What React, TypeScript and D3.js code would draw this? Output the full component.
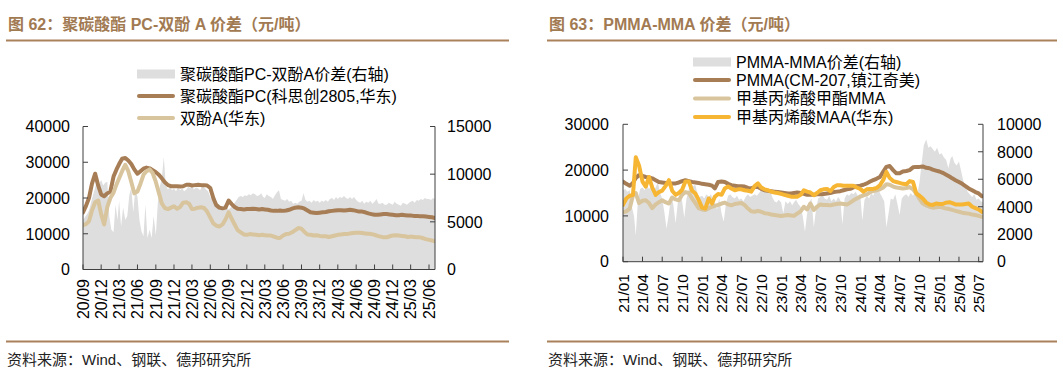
import React from 'react';
import * as d3 from 'd3';

// ================= LEFT CHART DATA (图 62) =================
const leftTickLabels = ['20/09','20/12','21/03','21/06','21/09','21/12','22/03','22/06','22/09','22/12','23/03','23/06','23/09','23/12','24/03','24/06','24/09','24/12','25/03','25/06'];
const leftYTicks = [0, 10000, 20000, 30000, 40000];
const leftY2Ticks = [0, 5000, 10000, 15000];
const leftSeriesNames = ['聚碳酸酯PC-双酚A价差(右轴)', '聚碳酸酯PC(科思创2805,华东)', '双酚A(华东)'];
// semi-monthly from 2020-09-01 (1st & 16th)
const pcPrice = [
  16000,17800, 20000,24000, 26800,23500, 21000,20500, 21300,21800, 26000,28000,
  29500,31000, 31200,30500, 29500,28000, 26800,27500, 28200,28500, 28300,27800,
  27200,26500, 25500,24400, 23600,23300, 23300,23300, 23200,23300, 23700,23700,
  23500,23600, 23700,23600, 23600,23500, 22800,20000, 18000,17300, 17100,17300,
  19300,18300, 17500,17000, 16900,16800, 16900,16900, 17000,16900, 16800,16900,
  16800,16700, 16500,16400, 16400,16500, 16400,16500, 16700,17000, 17300,17400,
  17300,17000, 16500,16000, 15900,15800, 15900,16000, 16100,16300, 16400,16500,
  16600,16600, 16500,16600, 16700,16600, 16400,16200, 16200,16000, 15700,15500,
  15300,15300, 15400,15500, 15500,15400, 15300,15200, 15200,15300, 15200,15100,
  15100,15000, 15000,14900, 14900,14800, 14700,14600, 14400,
];
const bpaPrice = [
  12400,12700, 13500,16500, 18800,19300, 15500,12600, 17500,20000, 21500,23800,
  25500,27500, 29300,27500, 24500,21300, 21800,24000, 26500,27500, 28000,27000,
  24500,21500, 18500,17200, 16900,17300, 17700,17000, 17500,18700, 18800,18300,
  16900,17000, 17300,17400, 17200,16200, 14500,12900, 12300,12000, 12600,14000,
  16000,14200, 12600,11000, 10400,9800, 9700,9900, 9800,9700, 9600,9700,
  9600,9500, 9500,9200, 8900,8800, 9500,9900, 10000,10400, 11000,11600,
  11400,10500, 9800,9700, 9500,9600, 9400,9300, 9300,9100, 9300,9500,
  9700,9800, 9900,9900, 10100,10200, 10300,10300, 10200,10100, 10000,9900,
  9700,9400, 9200,9000, 9000,9300, 9500,9600, 9500,9400, 9300,9100,
  9200,9100, 9000,9000, 8800,8500, 8300,8100, 7900,
];
// spread (right axis), three readings per month (1st, 11th, 21st) from 2020-09
const pcSpread = [
  5200,5500,5800, 6200,7000,7800, 8600,9300,9000, 9400,8800,9100, 9200,5500,4200,
  3900,6800,5200, 7200,4500,6500, 5200,5600,7800, 8600,6000,8400, 7600,5200,4000,
  3500,6800,3300, 4200,3300,5600, 3600,7000,8700, 9600,11800,8800, 8400,8700,8300,
  8500,8200,8600, 8300,8500,8200, 8400,8700,8500, 8800,8400,8600, 8500,8300,8700,
  8600,8400,8200, 7600,7300,7200, 7100,6900,6700, 6600,6800,6500, 6300,6500,6800,
  7000,7300,7600, 7700,7600,7800, 7700,7900,7800, 8000,7900,7700, 7800,8000,7600,
  7500,7900,7700, 7600,7400,7800, 8100,8300,7400, 7300,7200,7400, 7100,7200,6900,
  7000,6900,7100, 7200,8000,7300, 7100,7200,7000, 7300,7100,7200, 7000,7200,7100,
  7300,7100,7400, 7500,7300,7600, 7400,7600,7500, 7700,7500,7400, 7600,7400,7600,
  7300,7100,7000, 7200,6900,7100, 7000,7200,6900, 7100,7400,6900, 6900,7000,6800,
  6800,7000,6900, 6800,7100,6900, 6800,6700,7000, 6900,6800,7000, 7100,7200,7000,
  7300,7200,7400, 7300,7500,7400, 7400,7300,7500, 7400,
];

// ================= RIGHT CHART DATA (图 63) =================
const rightTickLabels = ['21/01','21/04','21/07','21/10','22/01','22/04','22/07','22/10','23/01','23/04','23/07','23/10','24/01','24/04','24/07','24/10','25/01','25/04','25/07'];
const rightYTicks = [0, 10000, 20000, 30000];
const rightY2Ticks = [0, 2000, 4000, 6000, 8000, 10000];
const rightSeriesNames = ['PMMA-MMA价差(右轴)', 'PMMA(CM-207,镇江奇美)', '甲基丙烯酸甲酯MMA', '甲基丙烯酸MAA(华东)'];
// semi-monthly from 2021-01-01
const pmmaPrice = [
  17500,17000, 16600,17200, 18300,18900, 18700,18500, 18400,18200, 17800,17400,
  17300,17200, 17100,17100, 17100,17300, 17600,17800, 17600,17400, 17300,17200,
  17000,16900, 16800,16600, 16000,17400, 17500,17400, 17000,16700, 16600,16500,
  16500,16400, 16100,16000, 16300,16300, 15900,15600, 15500,15400, 15300,15200,
  15100,15000, 14900,14900, 15000,15100, 15000,14800, 14600,14600, 14600,14700,
  14700,14800, 14900,15000, 15200,15300, 15400,15600, 15800,15900, 16200,16500,
  16600,16800, 17100,17500, 17800,18100, 18500,19600, 20700,20900, 20000,19300,
  19300,19700, 19800,20000, 20600,20700, 20700,20800, 20500,20400, 20100,19900,
  19700,19400, 19000,18600, 18200,17800, 17400,17000, 16500,16000, 15600,15200,
  14900,14300,
];
const mmaPrice = [
  10800,11000, 11600,14500, 15000,12800, 13300,13400, 12800,11700, 12500,13000,
  13400,13000, 12700,14000, 13600,13400, 14600,15200, 15000,13800, 12800,11700,
  11400,11300, 11700,12000, 12200,12400, 12700,12900, 12500,12300, 12600,12700,
  12800,12400, 11600,11000, 10900,11100, 10900,10600, 10500,10300, 10200,10100,
  10000,10100, 10200,10100, 10000,10500, 11000,12000, 11400,12700, 11300,12000,
  12500,12400, 12400,12300, 12500,12600, 12700,12600, 12500,12900, 13400,13800,
  14200,14500, 14700,15200, 15400,15600, 15800,16200, 16900,16800, 16400,16200,
  16100,16000, 16100,16300, 15800,14900, 13700,12700, 12300,12000, 11800,11900,
  12000,11800, 11600,11500, 11300,11100, 10900,10700, 10600,10500, 10300,10200,
  10000,9800,
];
const maaPrice = [
  12400,13800, 14400,14600, 22800,21000, 17500,16400, 18500,16200, 14600,15200,
  15500,16500, 17800,15500, 14600,15000, 15700,17500, 17500,15500, 14900,13500,
  11800,11600, 13800,12700, 14200,14800, 14600,16000, 16400,16000, 15600,15800,
  15800,15600, 15500,15300, 16500,17100, 16200,15800, 15600,15300, 15100,15000,
  14800,14600, 14400,14200, 14200,14200, 14600,15600, 15300,15100, 14500,15000,
  15600,15800, 15900,15400, 16300,16700, 16700,16600, 16600,16600, 16600,16200,
  15900,15300, 15800,15900, 15900,16100, 16700,17800, 19600,18300, 17600,17400,
  17200,17000, 16900,17600, 17400,14900, 14400,13800, 12900,12500, 12400,12700,
  12600,12600, 12900,13000, 12800,12500, 12500,12500, 12600,12700, 12000,11700,
  11400,10900,
];
// spread (right axis), three readings per month (1st, 11th, 21st) from 2021-01
const pmmaSpread = [
  5200,5300,5100, 5200,4000,3300, 1900,4500,5300, 5400,5200,5600, 5300,5500,5200,
  5400,5800,5000, 4600,3600,2400, 3500,4800,4200, 2800,4300,5000, 4400,3200,4600,
  5300,5700,5500, 5600,4900,4700, 4800,4600,4900, 4700,4900,4500, 4300,3800,4600,
  3500,2900,4200, 4800,4900,4700, 4600,4800,4500, 4600,4400,4700, 4900,4700,4800,
  4900,4800,5000, 5200,5500,5200, 5100,5300,4700, 4400,4300,4500, 4300,3500,4400,
  4200,4400,4100, 4300,4500,4200, 4000,3300,2200, 3500,4300,4600, 2500,3800,4600,
  4700,4900,4600, 4500,4800,4400, 4600,4400,4700, 4500,2700,4600, 4900,4800,5000,
  4900,5100,4800, 4900,3000,4500, 4800,4600,5000, 4800,5200,5500, 5000,4700,4400,
  2500,3500,4600, 4500,4900,4200, 3400,4600,4800, 4900,4700,5000, 4800,5100,4900,
  5800,7200,8500, 8900,8300,8400, 8200,8000,8300, 7800,7900,7600, 7400,6800,7500,
  7700,7200,7000, 7300,6600,5900, 5500,5100,4900, 4700,4900,4500, 4600,4400,4300,
];

// ================= STYLE =================
const FONT = '"Liberation Sans", Arial, "Noto Sans CJK SC", sans-serif';
const CJK = '"Liberation Sans", Arial, "Noto Sans CJK SC", sans-serif';
const TITLE_COLOR = '#A27A52';
const RULE_COLOR = '#A9825C';
const AXIS_COLOR = '#3f3f3f';
const GRAY_FILL = '#DEDEDE';
const BROWN = '#A77D55';
const TAN = '#D9C59D';
const GOLD = '#F6B533';

const halfMonth = (y: number, m: number, i: number) => new Date(y, m + Math.floor(i / 2), i % 2 ? 16 : 1);
const thirdMonth = (y: number, m: number, i: number) => new Date(y, m + Math.floor(i / 3), [1, 11, 21][i % 3]);
const parseTick = (s: string) => new Date(2000 + +s.slice(0, 2), +s.slice(3) - 1, 1);

type LineSeries = { values: number[]; color: string; name: string };
type PanelProps = {
  id: string;
  title: string;
  titleX: number;
  ruleX: [number, number];
  x0: number; x1: number; yTop: number; yBot: number;
  start: [number, number];
  end: Date;
  tickLabels: string[];
  yTicks: number[];
  y2Ticks: number[];
  yMax: number; y2Max: number;
  spread: number[]; spreadName: string;
  lines: LineSeries[];
  legendX: number; legendY: number[];
  leftLabelX: number; rightLabelX: number;
  xLabelTop: number;
  xLabelSize: number;
};

function Panel(p: PanelProps) {
  const x = d3.scaleTime().domain([new Date(p.start[0], p.start[1], 1), p.end]).range([p.x0, p.x1]);
  const y = d3.scaleLinear().domain([0, p.yMax]).range([p.yBot, p.yTop]);
  const y2 = d3.scaleLinear().domain([0, p.y2Max]).range([p.yBot, p.yTop]);
  const area = d3.area<number>()
    .x((_, i) => x(thirdMonth(p.start[0], p.start[1], i)))
    .y0(p.yBot)
    .y1((d) => y2(d));
  const line = (vals: number[]) => d3.line<number>()
    .x((_, i) => x(halfMonth(p.start[0], p.start[1], i)))
    .y((d) => y(d))
    .curve(d3.curveLinear)(vals) || '';
  const tickDates = p.tickLabels.map(parseTick);
  const clipId = 'clip-' + p.id;
  return (
    <g>
      <text x={p.titleX} y={30} fill={TITLE_COLOR} fontFamily={CJK} fontWeight="bold" fontSize={16}>{p.title}</text>
      <line x1={p.ruleX[0]} x2={p.ruleX[1]} y1={40.5} y2={40.5} stroke={RULE_COLOR} strokeWidth={2} />
      <line x1={p.ruleX[0]} x2={p.ruleX[1]} y1={341.5} y2={341.5} stroke={RULE_COLOR} strokeWidth={2} />
      <text x={p.ruleX[0] + 1} y={365} fill="#222" fontFamily={CJK} fontSize={15}>资料来源：Wind、钢联、德邦研究所</text>

      <defs>
        <clipPath id={clipId}>
          <rect x={p.x0} y={p.yTop - 10} width={p.x1 - p.x0} height={p.yBot - p.yTop + 10} />
        </clipPath>
      </defs>
      <g clipPath={`url(#${clipId})`}>
        <path d={area(p.spread) || ''} fill={GRAY_FILL} />
        {p.lines.map((s) => (
          <path key={s.name} d={line(s.values)} fill="none" stroke={s.color} strokeWidth={4} strokeLinejoin="round" strokeLinecap="round" />
        ))}
      </g>

      {/* axes */}
      <line x1={p.x0} x2={p.x0} y1={p.yTop} y2={p.yBot} stroke={AXIS_COLOR} strokeWidth={1} />
      <line x1={p.x1} x2={p.x1} y1={p.yTop} y2={p.yBot} stroke={AXIS_COLOR} strokeWidth={1} />
      <line x1={p.x0} x2={p.x1} y1={p.yBot} y2={p.yBot} stroke={AXIS_COLOR} strokeWidth={1} />
      {p.yTicks.map((t) => (
        <g key={'l' + t}>
          <line x1={p.x0} x2={p.x0 + 5} y1={y(t)} y2={y(t)} stroke={AXIS_COLOR} />
          <text x={p.leftLabelX} y={y(t)} dy="0.36em" textAnchor="end" fontFamily={FONT} fontSize={16} fill="#000">{t}</text>
        </g>
      ))}
      {p.y2Ticks.map((t) => (
        <g key={'r' + t}>
          <line x1={p.x1 - 5} x2={p.x1} y1={y2(t)} y2={y2(t)} stroke={AXIS_COLOR} />
          <text x={p.rightLabelX} y={y2(t)} dy="0.36em" textAnchor="start" fontFamily={FONT} fontSize={16} fill="#000">{t}</text>
        </g>
      ))}
      {tickDates.map((d, i) => (
        <g key={'x' + i}>
          <line x1={x(d)} x2={x(d)} y1={p.yBot} y2={p.yBot - 5} stroke={AXIS_COLOR} />
          <text transform={`translate(${x(d)},${p.xLabelTop}) rotate(-90)`} dy="0.36em" textAnchor="end" fontFamily={FONT} fontSize={p.xLabelSize} fill="#000">{p.tickLabels[i]}</text>
        </g>
      ))}

      {/* legend */}
      <rect x={p.legendX} y={p.legendY[0] - 4.5} width={38} height={9} fill={GRAY_FILL} />
      <text x={p.legendX + 43} y={p.legendY[0]} dy="0.36em" fontFamily={CJK} fontSize={16} fill="#000">{p.spreadName}</text>
      {p.lines.map((s, i) => (
        <g key={'lg' + i}>
          <line x1={p.legendX + 2} x2={p.legendX + 36} y1={p.legendY[i + 1]} y2={p.legendY[i + 1]} stroke={s.color} strokeWidth={4} strokeLinecap="round" />
          <text x={p.legendX + 43} y={p.legendY[i + 1]} dy="0.36em" fontFamily={CJK} fontSize={16} fill="#000">{s.name}</text>
        </g>
      ))}
    </g>
  );
}

export default function App() {
  return (
    <svg width={1063} height={383} style={{ position: 'absolute', left: 0, top: 0, background: '#fff' }}>
      <rect width={1063} height={383} fill="#fff" />
      <Panel
        id="left"
        title="图 62：聚碳酸酯 PC-双酚 A 价差（元/吨）"
        titleX={8}
        ruleX={[6, 509]}
        x0={83} x1={435} yTop={126.5} yBot={269.5}
        start={[2020, 8]}
        end={new Date(2025, 6, 1)}
        tickLabels={leftTickLabels}
        yTicks={leftYTicks} y2Ticks={leftY2Ticks}
        yMax={40000} y2Max={15000}
        spread={pcSpread} spreadName={leftSeriesNames[0]}
        lines={[
          { values: pcPrice, color: BROWN, name: leftSeriesNames[1] },
          { values: bpaPrice, color: TAN, name: leftSeriesNames[2] },
        ]}
        legendX={137} legendY={[74, 96, 118]}
        leftLabelX={70} rightLabelX={447}
        xLabelTop={279}
        xLabelSize={16}
      />
      <Panel
        id="right"
        title="图 63：PMMA-MMA 价差（元/吨）"
        titleX={549}
        ruleX={[547, 1057]}
        x0={623} x1={983} yTop={124.3} yBot={261.7}
        start={[2021, 0]}
        end={new Date(2025, 6, 21)}
        tickLabels={rightTickLabels}
        yTicks={rightYTicks} y2Ticks={rightY2Ticks}
        yMax={30000} y2Max={10000}
        spread={pmmaSpread} spreadName={rightSeriesNames[0]}
        lines={[
          { values: pmmaPrice, color: BROWN, name: rightSeriesNames[1] },
          { values: mmaPrice, color: TAN, name: rightSeriesNames[2] },
          { values: maaPrice, color: GOLD, name: rightSeriesNames[3] },
        ]}
        legendX={693} legendY={[62, 80, 98.5, 117]}
        leftLabelX={609} rightLabelX={997}
        xLabelTop={274}
        xLabelSize={15.5}
      />
    </svg>
  );
}
